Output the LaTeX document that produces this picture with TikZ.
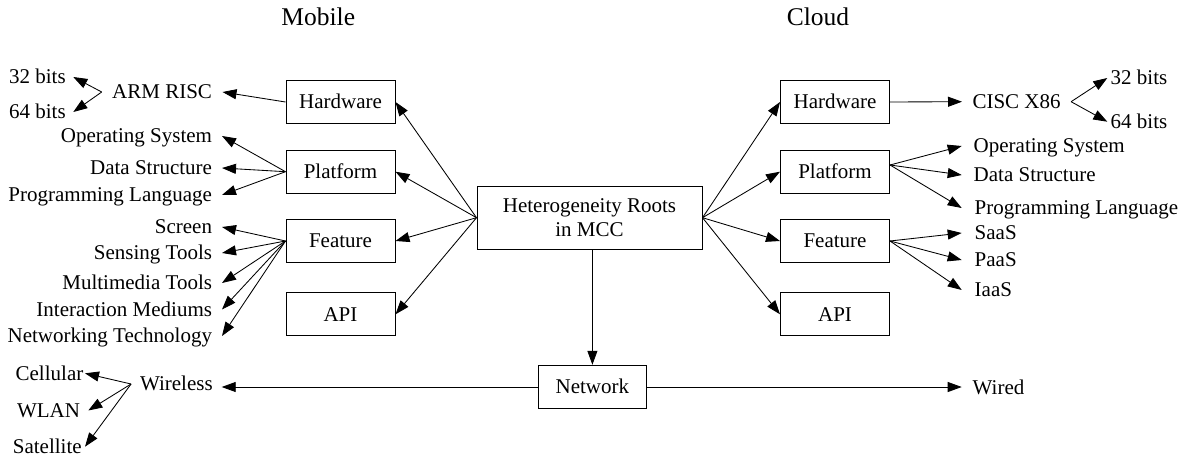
\documentclass[tikz,border=0pt]{standalone}
\usepackage{fontspec}
\setmainfont{Liberation Serif}
\usetikzlibrary{arrows.meta}
\begin{document}
\begin{tikzpicture}[x=1pt,y=-1pt,
  every node/.style={font=\fontsize{21}{23.3}\selectfont},
  box/.style={draw, line width=1pt, minimum width=109pt, minimum height=43pt, inner sep=0pt, text height=13.9pt, text depth=0pt},
  cbox/.style={draw, line width=1pt, minimum width=225pt, minimum height=63pt, inner sep=0pt, align=center},
  txt/.style={inner sep=0pt, text height=13.9pt, text depth=0pt},
  ttl/.style={inner sep=0pt, font=\fontsize{25.5}{28}\selectfont, text height=16.9pt, text depth=0pt},
  arr/.style={line width=0.85pt, -{Triangle[length=14pt,width=10pt]}},
]
\useasboundingbox (0,0) rectangle (1183,460);

% titles
\node[ttl] (mob) at (318.3,16.6) {Mobile};
\node[ttl] (cld) at (818,16.6) {Cloud};

% central boxes
\node[cbox] (root) at (589.5,217.7) {Heterogeneity Roots\\in MCC};
\node[box, minimum width=108.7pt, minimum height=43.4pt] (net) at (592.4,387) {Network};

% left boxes
\node[box] (lhw) at (340.5,102) {Hardware};
\node[box] (lpf) at (340.5,171.7) {Platform};
\node[box] (lft) at (340.5,241) {Feature};
\node[box] (lapi) at (340.5,314.3) {API};

% right boxes
\node[box] (rhw) at (835,102) {Hardware};
\node[box] (rpf) at (835,171.7) {Platform};
\node[box] (rft) at (835,241) {Feature};
\node[box] (rapi) at (835,314.3) {API};

% left texts
\node[txt, anchor=east, outer xsep=10.5pt] (arm) at (222.5,92) {ARM RISC};
\node[txt, anchor=east, outer xsep=7.6pt] (lb32) at (73.3,77) {32 bits};
\node[txt, anchor=east, outer xsep=7.6pt] (lb64) at (73.3,112) {64 bits};
\node[txt, anchor=east, outer xsep=10pt] (los) at (222,136) {Operating System};
\node[txt, anchor=east, outer xsep=10pt] (lds) at (222,168) {Data Structure};
\node[txt, anchor=east, outer xsep=10pt] (lpl) at (222,195) {Programming Language};
\node[txt, anchor=east, outer xsep=10pt] (scr) at (222,227) {Screen};
\node[txt, anchor=east, outer xsep=10pt] (sen) at (222,253) {Sensing Tools};
\node[txt, anchor=east, outer xsep=10pt] (mul) at (222,283) {Multimedia Tools};
\node[txt, anchor=east, outer xsep=10pt] (inm) at (222,309.5) {Interaction Mediums};
\node[txt, anchor=east, outer xsep=10pt] (ntt) at (222,336) {Networking Technology};
\node[txt, anchor=east, outer xsep=9pt] (wl) at (221.7,384) {Wireless};
\node[txt, anchor=east, outer xsep=1.7pt] (cell) at (85,373.3) {Cellular};
\node[txt, anchor=east, outer xsep=8.3pt] (wlan) at (88.3,410.5) {WLAN};
\node[txt, anchor=east, outer xsep=3.3pt] (sat) at (85,446.7) {Satellite};

% right texts
\node[txt, anchor=west, outer xsep=10.5pt] (cisc) at (962,101.7) {CISC X86};
\node[txt, anchor=west, outer xsep=3.4pt] (rb32) at (1107.3,78) {32 bits};
\node[txt, anchor=west, outer xsep=3.4pt] (rb64) at (1107.3,121.7) {64 bits};
\node[txt, anchor=west, outer xsep=12pt] (ros) at (961.7,146) {Operating System};
\node[txt, anchor=west, outer xsep=12pt] (rds) at (961.7,175) {Data Structure};
\node[txt, anchor=west, outer xsep=13pt] (rpl) at (961.7,208) {Programming Language};
\node[txt, anchor=west, outer xsep=13pt] (saas) at (961.7,233) {SaaS};
\node[txt, anchor=west, outer xsep=13pt] (paas) at (961.7,260) {PaaS};
\node[txt, anchor=west, outer xsep=13pt] (iaas) at (961.7,290) {IaaS};
\node[txt, anchor=west, outer xsep=11pt] (wired) at (961.7,387.5) {Wired};

% root connectors
\draw[arr] (root.west) -- (lhw.east);
\draw[arr] (root.west) -- (lpf.east);
\draw[arr] (root.west) -- (lft.east);
\draw[arr] (root.west) -- (lapi.east);
\draw[arr] (root.east) -- (rhw.west);
\draw[arr] (root.east) -- (rpf.west);
\draw[arr] (root.east) -- (rft.west);
\draw[arr] (root.east) -- (rapi.west);
\draw[arr] (root.south -| net.north) -- (net.north);

% left side
\draw[arr] (lhw.west) -- (arm.east);
\draw[arr] (arm.west) -- (lb32.east);
\draw[arr] (arm.west) -- (lb64.east);
\draw[arr] (lpf.west) -- (los.east);
\draw[arr] (lpf.west) -- (lds.east);
\draw[arr] (lpf.west) -- (lpl.east);
\draw[arr] (lft.west) -- (scr.east);
\draw[arr] (lft.west) -- (sen.east);
\draw[arr] (lft.west) -- (mul.east);
\draw[arr] (lft.west) -- (inm.east);
\draw[arr] (lft.west) -- (ntt.east);

% right side
\draw[arr] (rhw.east) -- (cisc.west);
\draw[arr] (cisc.east) -- (rb32.west);
\draw[arr] (cisc.east) -- (rb64.west);
\draw[arr] ([yshift=6.7pt]rpf.east) -- (ros.west);
\draw[arr] ([yshift=6.7pt]rpf.east) -- (rds.west);
\draw[arr] ([yshift=6.7pt]rpf.east) -- (rpl.west);
\draw[arr] (rft.east) -- (saas.west);
\draw[arr] (rft.east) -- (paas.west);
\draw[arr] (rft.east) -- (iaas.west);

% network
\draw[arr] (net.west) -- (net.west -| wl.east);
\draw[arr] (net.east) -- (net.east -| wired.west);
\draw[arr] (wl.west) -- (cell.east);
\draw[arr] (wl.west) -- (wlan.east);
\draw[arr] (wl.west) -- (sat.east);
\end{tikzpicture}
\end{document}
